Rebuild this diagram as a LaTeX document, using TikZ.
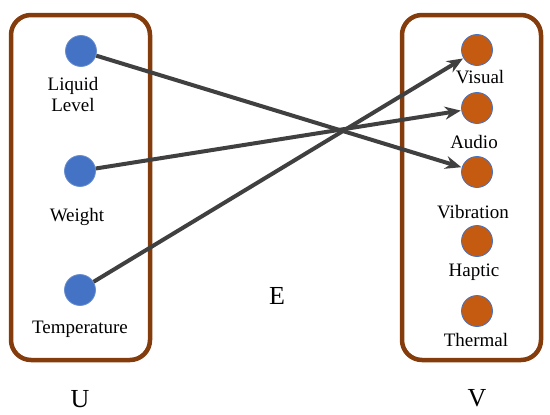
\documentclass[tikz,border=0pt]{standalone}
\usepackage{fontspec}
\setmainfont{Liberation Serif}
\usetikzlibrary{arrows.meta}
\definecolor{boxbrown}{HTML}{843C0C}
\definecolor{ublue}{HTML}{4472C4}
\definecolor{vorange}{HTML}{C55A11}
\definecolor{edgegray}{HTML}{404040}
\tikzset{
  setbox/.style={draw=boxbrown, line width=4.5pt, rounded corners=20pt},
  udot/.style={circle, fill=ublue, draw=ublue!80!white, line width=0.8pt, minimum size=31pt, inner sep=0pt},
  vdot/.style={circle, fill=vorange, draw=ublue, line width=0.8pt, minimum size=31pt, inner sep=0pt},
  lbl/.style={font=\fontsize{19}{21}\selectfont, inner sep=0pt, align=center},
  biglbl/.style={font=\fontsize{26}{28}\selectfont, inner sep=0pt},
  edge/.style={draw=edgegray, line width=4pt, -{Stealth[length=16pt,width=13pt]}, shorten >=0.5pt}
}
\begin{document}
\begin{tikzpicture}[x=1pt,y=-1pt]
\useasboundingbox (0,0) rectangle (550,415);
\draw[setbox] (11,15) rectangle (150,360);
\draw[setbox] (402,15) rectangle (541,360);

\node[udot] (u1) at (81,51) {};
\node[udot] (u2) at (80,171) {};
\node[udot] (u3) at (80,290) {};
\node[lbl] (lu1) at (73,95) {Liquid\\Level};
\node[lbl] (lu2) at (77,217) {Weight};
\node[lbl] (lu3) at (80,329) {Temperature};

\node[vdot] (v1) at (477,50) {};
\node[vdot] (v2) at (477,108) {};
\node[vdot] (v3) at (477,172) {};
\node[vdot] (v4) at (477,241) {};
\node[vdot] (v5) at (477,311) {};
\node[lbl] (lv1) at (480,77) {Visual};
\node[lbl] (lv2) at (474,142) {Audio};
\node[lbl] (lv3) at (473,212) {Vibration};
\node[lbl] (lv4) at (474,272) {Haptic};
\node[lbl] (lv5) at (476,340) {Thermal};

\node[biglbl] (U) at (80,399) {U};
\node[biglbl] (E) at (277,296) {E};
\node[biglbl] (V) at (477,398) {V};

\draw[edge] (u1) -- (v3);
\draw[edge] (u2) -- (v2);
\draw[edge] (u3) -- (v1);
\end{tikzpicture}
\end{document}
